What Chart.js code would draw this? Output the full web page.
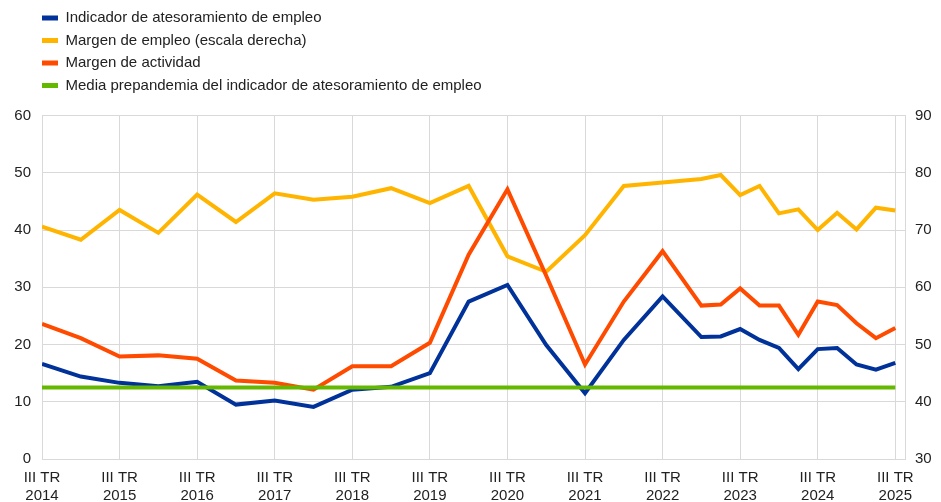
<!DOCTYPE html>
<html lang="es">
<head>
<meta charset="utf-8">
<title>Atesoramiento de empleo</title>
<script src="https://cdn.jsdelivr.net/npm/chart.js@4/dist/chart.umd.min.js"></script>
<style>
    html, body { margin: 0; padding: 0; background: #fff; }
    #wrap { width: 941px; height: 502px; position: relative; }
</style>
</head>
<body>
<div id="wrap"><canvas id="chart"></canvas></div>
<script>
// Periodos con dato: semestral hasta III TR 2022, trimestral después
const periodos = [
    '2014 T3', '2015 T1', '2015 T3', '2016 T1', '2016 T3', '2017 T1', '2017 T3',
    '2018 T1', '2018 T3', '2019 T1', '2019 T3', '2020 T1', '2020 T3', '2021 T1',
    '2021 T3', '2022 T1', '2022 T3', '2023 T1', '2023 T2', '2023 T3', '2023 T4',
    '2024 T1', '2024 T2', '2024 T3', '2024 T4', '2025 T1', '2025 T2', '2025 T3'
];

// Indicador de atesoramiento de empleo (escala izquierda)
const atesoramiento = [
    16.6, 14.4, 13.3, 12.7, 13.5, 9.5, 10.2,
    9.1, 12.1, 12.6, 15.0, 27.5, 30.4, 19.9,
    11.5, 20.8, 28.4, 21.3, 21.4, 22.7, 20.8,
    19.4, 15.7, 19.2, 19.4, 16.5, 15.6, 16.8
];

// Margen de empleo (escala derecha)
const margenEmpleo = [
    70.6, 68.3, 73.5, 69.5, 76.2, 71.4, 76.4,
    75.3, 75.8, 77.3, 74.7, 77.7, 65.4, 62.7,
    69.1, 77.7, 78.3, 78.9, 79.6, 76.1, 77.7,
    72.9, 73.6, 70.0, 73.0, 70.1, 73.9, 73.4
];

// Margen de actividad (escala izquierda)
const margenActividad = [
    23.6, 21.1, 17.9, 18.1, 17.5, 13.7, 13.3,
    12.1, 16.2, 16.2, 20.3, 35.7, 47.1, 32.0,
    16.5, 27.5, 36.3, 26.8, 27.0, 29.8, 26.8,
    26.8, 21.7, 27.5, 26.9, 23.7, 21.1, 22.9
];

// Media prepandemia del indicador, del primer al último periodo
const periodosMedia = ['2014 T3', '2025 T3'];
const mediaPrepandemia = [12.5, 12.5];

const escalaIzq = { min: 0, max: 60, step: 10 };
const escalaDer = { min: 30, max: 90, step: 10 };

const primerAnio = 2014;
const colores = {
    azul: '#003299',
    amarillo: '#ffb400',
    naranja: '#ff4b00',
    verde: '#65b800',
    rejilla: '#d9d9d9',
    texto: '#222222'
};

// trimestres transcurridos desde III TR 2014
function posicion(periodo) {
    const [anio, trim] = periodo.split(' T').map(Number);
    return (anio - primerAnio) * 4 + (trim - 3);
}

function serie(periodosSerie, valores) {
    return periodosSerie.map((p, i) => ({ x: posicion(p), y: valores[i] }));
}

// Leyenda en columna: un elemento por línea
const leyendaEnColumna = {
    id: 'leyendaEnColumna',
    beforeUpdate(chart) {
        const legend = chart.legend;
        if (!legend || legend._enColumna) return;
        const fitRows = legend._fitRows;
        legend._fitRows = function (...args) {
            const ancho = this.maxWidth;
            this.maxWidth = 1;
            const alto = fitRows.apply(this, args);
            this.maxWidth = ancho;
            return alto + 12.5;
        };
        // sin recorte: la caja se estrecha para forzar el salto de línea
        legend.draw = function () {
            if (this.options.display) this._draw();
        };
        legend._enColumna = true;
    },
    afterLayout(chart) {
        const legend = chart.legend;
        legend.left += 34.5;
        legend.right = legend.left + 1;
        legend.width = 1;
    }
};

const fuente = { family: "'Liberation Sans', Arial, sans-serif", size: 15 };

function dataset(label, datos, color, eje, orden) {
    return {
        label,
        data: datos,
        borderColor: color,
        backgroundColor: color,
        borderWidth: 4,
        pointRadius: 0,
        tension: 0,
        yAxisID: eje,
        order: orden
    };
}

new Chart(document.getElementById('chart'), {
    type: 'line',
    data: {
        datasets: [
            dataset('Indicador de atesoramiento de empleo', serie(periodos, atesoramiento), colores.azul, 'y', 1),
            dataset('Margen de empleo (escala derecha)', serie(periodos, margenEmpleo), colores.amarillo, 'y2', 3),
            dataset('Margen de actividad', serie(periodos, margenActividad), colores.naranja, 'y', 2),
            dataset('Media prepandemia del indicador de atesoramiento de empleo', serie(periodosMedia, mediaPrepandemia), colores.verde, 'y', 0)
        ]
    },
    options: {
        responsive: true,
        maintainAspectRatio: false,
        animation: false,
        layout: { padding: { top: 3, left: 0, right: 0, bottom: 0 } },
        plugins: {
            tooltip: { enabled: false },
            legend: {
                position: 'top',
                align: 'start',
                labels: {
                    boxWidth: 16,
                    boxHeight: 5,
                    padding: 7.5,
                    color: colores.texto,
                    font: fuente,
                    sort: (a, b) => a.datasetIndex - b.datasetIndex,
                    generateLabels(chart) {
                        return Chart.defaults.plugins.legend.labels.generateLabels(chart)
                            .map(item => ({ ...item, lineWidth: 0 }));
                    }
                }
            }
        },
        scales: {
            x: {
                type: 'linear',
                min: 0,
                max: 44.5,
                afterFit(scale) { scale.height = 43; },
                grid: { color: colores.rejilla, drawTicks: false },
                border: { color: colores.rejilla },
                ticks: {
                    stepSize: 4,
                    includeBounds: false,
                    autoSkip: false,
                    maxRotation: 0,
                    padding: 10,
                    color: colores.texto,
                    font: fuente,
                    callback: value => ['III TR', String(primerAnio + value / 4)]
                }
            },
            y: {
                position: 'left',
                min: escalaIzq.min,
                max: escalaIzq.max,
                afterFit(scale) { scale.width = 42; },
                grid: { color: colores.rejilla, drawTicks: false },
                border: { color: colores.rejilla },
                ticks: { stepSize: escalaIzq.step, padding: 11, color: colores.texto, font: fuente }
            },
            y2: {
                position: 'right',
                min: escalaDer.min,
                max: escalaDer.max,
                afterFit(scale) { scale.width = 36; },
                grid: { drawOnChartArea: false, drawTicks: false },
                border: { color: colores.rejilla },
                ticks: { stepSize: escalaDer.step, padding: 10, color: colores.texto, font: fuente }
            }
        }
    },
    plugins: [leyendaEnColumna]
});
</script>
</body>
</html>
